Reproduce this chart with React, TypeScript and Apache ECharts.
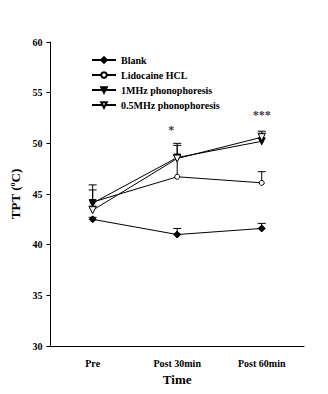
import React, { useEffect, useRef } from "react";
import * as echarts from "echarts";

const categories = ["Pre", "Post 30min", "Post 60min"];
const seriesNames = ["Blank", "Lidocaine HCL", "1MHz phonophoresis", "0.5MHz phonophoresis"];
const blank = [42.5, 41.0, 41.6];
const lidocaine = [44.2, 46.7, 46.1];
const mhz1 = [44.1, 48.6, 50.2];
const mhz05 = [43.4, 48.5, 50.6];
const blankErr = [0.2, 0.6, 0.5];
const lidocaineErr = [1.2, 3.3, 1.1];
const mhz1Err = [1.8, 1.2, 1.0];
const mhz05Err = [0.4, 0.3, 0.4];
const sigLabels = ["", "*", "***"];
const sigY = [null, 51.3, 52.8];

const FONT = "Liberation Serif";
const TRI_DOWN = "path://M0,0 L10,0 L5,9 Z";

export default function App() {
  const ref = useRef<HTMLDivElement>(null);
  useEffect(() => {
    if (!ref.current) return;
    const chart = echarts.init(ref.current, null, { renderer: "svg" });
    const lineSeries = (name: string, data: number[], symbol: string, size: number, fill: string) => ({
      type: "line",
      name,
      data,
      symbol,
      symbolSize: size,
      showAllSymbol: true,
      lineStyle: { color: "#000", width: 1 },
      itemStyle: { color: fill, borderColor: "#000", borderWidth: 1 },
      z: 5,
    });
    const errSeries = (name: string, means: number[], errs: number[]) => ({
      type: "custom",
      name,
      data: means.map((m, i) => [i, m, m + errs[i]]),
      z: 3,
      renderItem: (params: any, api: any) => {
        const p0 = api.coord([api.value(0), api.value(1)]);
        const p1 = api.coord([api.value(0), api.value(2)]);
        const st = { stroke: "#000", lineWidth: 1 };
        return {
          type: "group",
          children: [
            { type: "line", shape: { x1: p0[0], y1: p0[1], x2: p1[0], y2: p1[1] }, style: st },
            { type: "line", shape: { x1: p1[0] - 4, y1: p1[1], x2: p1[0] + 4, y2: p1[1] }, style: st },
          ],
        };
      },
    });
    chart.setOption({
      animation: false,
      textStyle: { fontFamily: FONT },
      grid: { left: 48, right: 24, top: 42, bottom: 48 },
      legend: {
        data: seriesNames,
        orient: "vertical",
        left: 86,
        top: 50,
        itemWidth: 24,
        itemHeight: 7,
        itemGap: 5,
        textStyle: { fontFamily: FONT, fontWeight: "bold", fontSize: 10, color: "#000" },
      },
      xAxis: {
        type: "category",
        data: categories,
        boundaryGap: true,
        axisLine: { lineStyle: { color: "#000", width: 1 } },
        axisTick: { alignWithLabel: true, length: 5, lineStyle: { color: "#000" } },
        axisLabel: { color: "#000", fontFamily: FONT, fontWeight: "bold", fontSize: 10, margin: 12 },
        name: "Time",
        nameLocation: "middle",
        nameGap: 27,
        nameTextStyle: { color: "#000", fontFamily: FONT, fontWeight: "bold", fontSize: 13 },
      },
      yAxis: {
        type: "value",
        min: 30,
        max: 60,
        interval: 5,
        splitLine: { show: false },
        axisLine: { show: true, lineStyle: { color: "#000", width: 1 } },
        axisTick: { show: true, length: 4, lineStyle: { color: "#000" } },
        axisLabel: { color: "#000", fontFamily: FONT, fontWeight: "bold", fontSize: 10, margin: 8 },
        name: "TPT ({sup|o}C)",
        nameLocation: "middle",
        nameGap: 26,
        nameRotate: 90,
        nameTextStyle: {
          color: "#000",
          fontFamily: FONT,
          fontWeight: "bold",
          fontSize: 13,
          rich: {
            sup: { fontFamily: FONT, fontWeight: "bold", fontSize: 8, verticalAlign: "top", padding: [0, 0, 6, 0] },
          },
        },
      },
      series: [
        errSeries("e0", blank, blankErr),
        errSeries("e1", lidocaine, lidocaineErr),
        errSeries("e2", mhz1, mhz1Err),
        errSeries("e3", mhz05, mhz05Err),
        lineSeries(seriesNames[0], blank, "diamond", 7, "#000"),
        lineSeries(seriesNames[1], lidocaine, "circle", 5, "#fff"),
        lineSeries(seriesNames[2], mhz1, TRI_DOWN, 7, "#000"),
        lineSeries(seriesNames[3], mhz05, TRI_DOWN, 7, "#fff"),
        {
          type: "scatter",
          name: "sig",
          data: sigY.map((v, i) => ({
            value: [i, v],
            label: { offset: i === 1 ? [-6, 0] : [0, 0] },
          })),
          symbolSize: 0,
          silent: true,
          itemStyle: { color: "#000" },
          label: {
            show: true,
            position: "inside",
            formatter: (p: any) => sigLabels[p.dataIndex],
            color: "#000",
            textBorderWidth: 0,
            textBorderColor: "transparent",
            fontFamily: FONT,
            fontWeight: "bold",
            fontSize: 12,
          },
        },
      ],
    });
    return () => chart.dispose();
  }, []);
  return <div ref={ref} style={{ width: 328, height: 394, margin: -8 }} />;
}
